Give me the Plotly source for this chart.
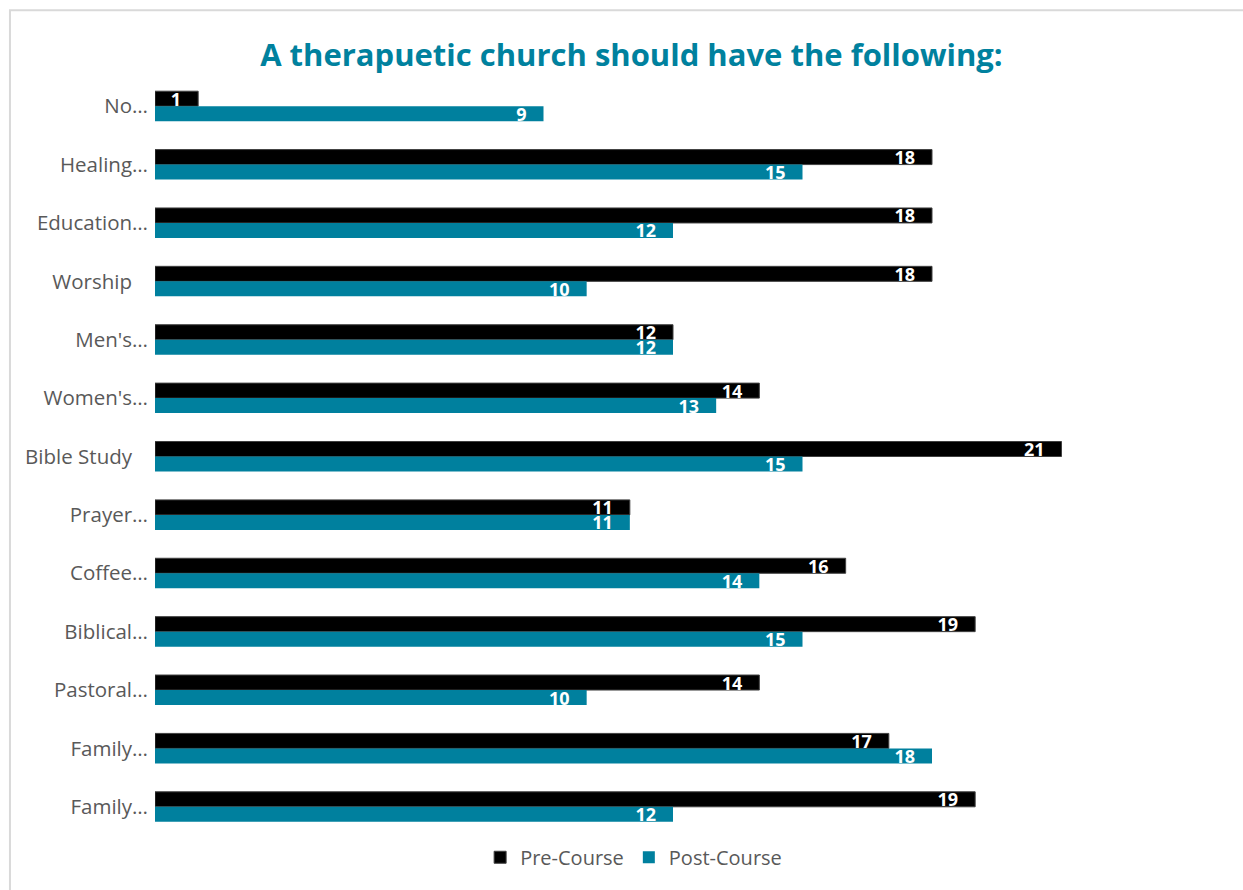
import plotly.graph_objects as go

category_ids = ["c01", "c02", "c03", "c04", "c05", "c06", "c07",
                "c08", "c09", "c10", "c11", "c12", "c13"]
category_labels = ["No…", "Healing…", "Education…", "Worship\u00a0\u00a0\u00a0", "Men's…",
                   "Women's…", "Bible Study\u00a0\u00a0\u00a0", "Prayer…", "Coffee…",
                   "Biblical…", "Pastoral…", "Family…", "Family…"]
pre_course = [1, 18, 18, 18, 12, 14, 21, 11, 16, 19, 14, 17, 19]
post_course = [9, 15, 12, 10, 12, 13, 15, 11, 14, 15, 10, 18, 12]

BLACK = "#000000"
TEAL = "#00809E"
GREY = "#595959"
FONT = "Open Sans, sans-serif"
PAD = "\u00a0\u00a0\u00a0"

fig = go.Figure()
fig.add_trace(go.Bar(
    y=category_ids, x=pre_course, orientation="h", name="Pre-Course",
    marker=dict(color=BLACK, line=dict(color="#404040", width=1)),
    text=[f"{v}{PAD}" for v in pre_course], textposition="inside",
    insidetextanchor="end", textangle=0, cliponaxis=False,
    textfont=dict(color="white", size=18, family=FONT, weight="bold"),
))
fig.add_trace(go.Bar(
    y=category_ids, x=post_course, orientation="h", name="Post-Course",
    marker=dict(color=TEAL, line=dict(width=0)),
    text=[f"{v}{PAD}" for v in post_course], textposition="inside",
    insidetextanchor="end", textangle=0, cliponaxis=False,
    textfont=dict(color="white", size=18, family=FONT, weight="bold"),
))

fig.update_layout(
    width=1243, height=890,
    margin=dict(l=155, r=52, t=77, b=54),
    paper_bgcolor="white", plot_bgcolor="white",
    barmode="group", bargap=0.486, bargroupgap=0,
    uniformtext=dict(minsize=18, mode="show"),
    title=dict(text="<b>A therapuetic church should have the following:</b>",
               x=0.508, xref="container", xanchor="center",
               y=1 - 55 / 890, yref="container", yanchor="middle",
               font=dict(family=FONT, size=31, color="#00819E")),
    font=dict(family=FONT, color=GREY, size=21),
    showlegend=True,
    legend=dict(orientation="h", x=0.462, xref="paper", xanchor="center",
                y=-0.028, yanchor="middle", traceorder="normal",
                font=dict(size=20, color=GREY), itemwidth=30),
    xaxis=dict(range=[0, 24], showgrid=False, showticklabels=False,
               zeroline=False, showline=False, ticks=""),
    yaxis=dict(autorange="reversed", showgrid=False, showline=False,
               ticks="", ticklabelstandoff=6, tickmode="array",
               tickvals=category_ids, ticktext=category_labels,
               tickfont=dict(size=20.5, color=GREY)),
    shapes=[dict(type="rect", xref="paper", yref="paper",
                 x0=-0.140, x1=1.06, y0=-0.12, y1=1.088,
                 line=dict(color="#D9D9D9", width=2), fillcolor="rgba(0,0,0,0)")],
)

fig.write_html("out.html")
